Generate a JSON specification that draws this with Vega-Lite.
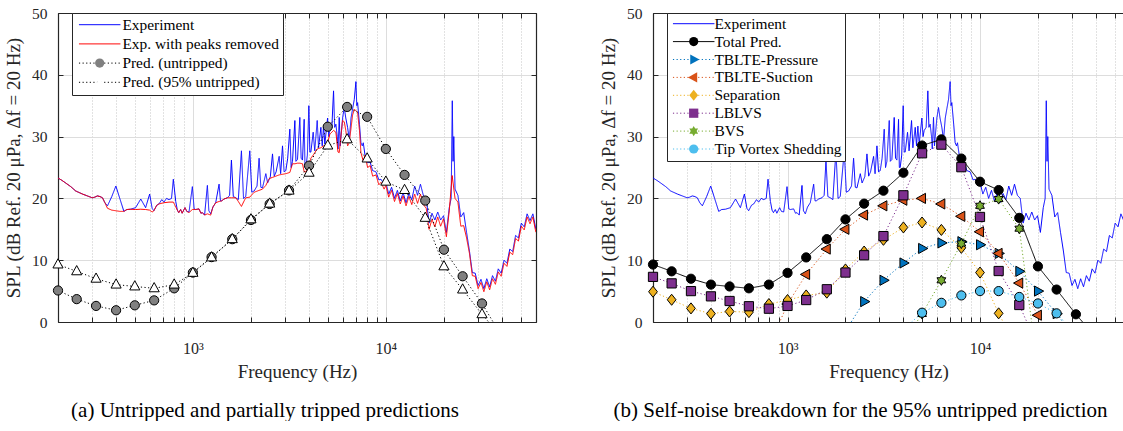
{
"$schema": "https://vega.github.io/schema/vega-lite/v6.json",
"background": "white",
"padding": {"left": 4, "top": 6, "right": 0, "bottom": 0},
"spacing": 62,
"resolve": {"scale": {"stroke": "independent", "strokeDash": "independent", "shape": "independent", "fill": "independent", "x": "independent", "y": "independent"}, "legend": {"stroke": "independent", "strokeDash": "independent", "shape": "independent", "fill": "independent"}},
"config": {
  "font": "Liberation Serif",
  "view": {"stroke": null},
  "axis": {"domainColor": "#262626", "tickColor": "#262626", "labelColor": "#262626", "titleColor": "#262626", "labelFont": "Liberation Serif", "titleFont": "Liberation Serif", "titleFontWeight": "normal", "domainWidth": 1.2, "tickWidth": 1},
  "legend": {"labelFont": "Liberation Serif", "labelLimit": 400}
},
"datasets": {
"blue": [
{"f":200,"v":23.3},{"f":210,"v":22.9},{"f":219,"v":22.5},{"f":233,"v":21.9},{"f":247,"v":21.2},{"f":268,"v":20.7},{"f":284,"v":20.4},{"f":301,"v":20.1},{"f":310,"v":20.2},{"f":320,"v":20.4},{"f":330,"v":20.3},{"f":340,"v":20.1},{"f":350,"v":19.3},{"f":361,"v":18.8},{"f":380,"v":20.3},{"f":399,"v":22.0},{"f":418,"v":20.0},{"f":439,"v":17.9},{"f":455,"v":18.2},{"f":476,"v":18.25},{"f":505,"v":18.5},{"f":537,"v":19.9},{"f":569,"v":18.5},{"f":597,"v":20.7},{"f":615,"v":18.4},{"f":628,"v":18.0},{"f":650,"v":18.9},{"f":667,"v":19.1},{"f":690,"v":19.8},{"f":708,"v":19.4},{"f":730,"v":20.0},{"f":752,"v":19.8},{"f":775,"v":20.0},{"f":792,"v":23.1},{"f":815,"v":19.5},{"f":831,"v":18.1},{"f":845,"v":17.7},{"f":864,"v":18.2},{"f":880,"v":17.6},{"f":910,"v":18.5},{"f":930,"v":17.9},{"f":955,"v":17.8},{"f":994,"v":21.9},{"f":1015,"v":18.3},{"f":1034,"v":18.2},{"f":1076,"v":18.3},{"f":1100,"v":17.6},{"f":1120,"v":17.7},{"f":1150,"v":17.3},{"f":1189,"v":22.1},{"f":1210,"v":18.0},{"f":1237,"v":17.5},{"f":1270,"v":18.6},{"f":1313,"v":19.3},{"f":1367,"v":22.3},{"f":1390,"v":19.6},{"f":1410,"v":19.6},{"f":1451,"v":19.9},{"f":1510,"v":20.1},{"f":1550,"v":20.5},{"f":1584,"v":26.2},{"f":1620,"v":20.3},{"f":1668,"v":20.1},{"f":1720,"v":19.8},{"f":1785,"v":27.7},{"f":1830,"v":20.0},{"f":1879,"v":20.3},{"f":1972,"v":27.7},{"f":2020,"v":21.0},{"f":2077,"v":21.2},{"f":2150,"v":22.0},{"f":2204,"v":26.5},{"f":2250,"v":21.8},{"f":2294,"v":21.7},{"f":2388,"v":24.0},{"f":2440,"v":22.5},{"f":2520,"v":23.5},{"f":2586,"v":27.2},{"f":2640,"v":23.6},{"f":2700,"v":24.3},{"f":2800,"v":26.8},{"f":2850,"v":24.0},{"f":2914,"v":28.5},{"f":2970,"v":24.3},{"f":3032,"v":24.5},{"f":3100,"v":26.5},{"f":3180,"v":31.2},{"f":3230,"v":25.0},{"f":3283,"v":26.0},{"f":3377,"v":32.6},{"f":3420,"v":26.0},{"f":3485,"v":26.3},{"f":3583,"v":33.1},{"f":3640,"v":26.5},{"f":3700,"v":26.2},{"f":3774,"v":32.8},{"f":3810,"v":25.0},{"f":3849,"v":25.0},{"f":3920,"v":27.0},{"f":3990,"v":35.0},{"f":4040,"v":27.5},{"f":4087,"v":27.5},{"f":4202,"v":30.7},{"f":4280,"v":27.7},{"f":4409,"v":32.6},{"f":4480,"v":28.2},{"f":4607,"v":31.5},{"f":4680,"v":28.5},{"f":4756,"v":31.7},{"f":4830,"v":28.8},{"f":4989,"v":33.0},{"f":5060,"v":30.0},{"f":5129,"v":31.0},{"f":5250,"v":31.5},{"f":5358,"v":37.4},{"f":5430,"v":31.5},{"f":5510,"v":32.0},{"f":5600,"v":30.0},{"f":5650,"v":28.0},{"f":5734,"v":33.1},{"f":5800,"v":28.5},{"f":5968,"v":33.0},{"f":6088,"v":34.7},{"f":6200,"v":33.0},{"f":6335,"v":31.5},{"f":6463,"v":29.5},{"f":6600,"v":33.0},{"f":6726,"v":34.5},{"f":6861,"v":36.0},{"f":6998,"v":38.9},{"f":7070,"v":35.0},{"f":7139,"v":35.5},{"f":7300,"v":32.0},{"f":7429,"v":29.0},{"f":7550,"v":28.5},{"f":7639,"v":29.0},{"f":7800,"v":27.0},{"f":8045,"v":25.8},{"f":8300,"v":25.8},{"f":8542,"v":24.5},{"f":8888,"v":24.3},{"f":9200,"v":23.0},{"f":9435,"v":23.1},{"f":9800,"v":22.3},
{"f":10000,"v":22.6},{"f":10350,"v":20.7},{"f":10712,"v":21.8},{"f":11087,"v":20.0},{"f":11475,"v":21.3},{"f":11877,"v":19.6},{"f":12293,"v":20.9},{"f":12723,"v":19.3},{"f":13168,"v":20.8},{"f":13629,"v":19.8},{"f":14106,"v":22.0},{"f":14600,"v":20.5},{"f":15111,"v":22.3},{"f":15640,"v":20.5},{"f":16187,"v":20.0},{"f":16753,"v":16.0},{"f":17340,"v":17.6},{"f":17947,"v":16.5},{"f":18575,"v":17.8},{"f":19225,"v":16.5},{"f":19898,"v":17.2},{"f":20594,"v":14.5},{"f":21315,"v":18.5},{"f":21800,"v":20.0},{"f":22100,"v":35.8},{"f":22300,"v":26.0},{"f":22500,"v":30.0},{"f":22833,"v":21.5},{"f":23632,"v":20.5},{"f":24460,"v":17.0},{"f":25316,"v":17.7},{"f":26202,"v":14.5},{"f":27119,"v":11.5},{"f":28068,"v":8.0},{"f":29050,"v":7.9},{"f":30067,"v":5.9},{"f":31119,"v":6.9},{"f":32209,"v":5.4},{"f":33336,"v":7.0},{"f":34503,"v":5.7},{"f":35710,"v":7.5},{"f":36960,"v":6.6},{"f":38254,"v":8.6},{"f":39593,"v":7.9},{"f":40978,"v":10.0},{"f":42413,"v":9.5},{"f":43897,"v":11.8},{"f":45433,"v":11.4},{"f":47024,"v":14.0},{"f":48669,"v":13.6},{"f":50373,"v":16.0},{"f":52136,"v":15.4},{"f":53961,"v":17.5},{"f":55849,"v":16.4},{"f":57804,"v":17.5},{"f":59827,"v":15.1},{"f":60140,"v":15.0}
],
"red": [
{"f":200,"v":23.3},{"f":210,"v":22.9},{"f":219,"v":22.5},{"f":233,"v":21.9},{"f":247,"v":21.2},{"f":268,"v":20.7},{"f":284,"v":20.4},{"f":301,"v":20.1},{"f":310,"v":20.2},{"f":320,"v":20.4},{"f":330,"v":20.3},{"f":340,"v":20.1},{"f":350,"v":19.3},{"f":361,"v":18.4},{"f":380,"v":18.1},{"f":399,"v":18.0},{"f":418,"v":17.9},{"f":439,"v":17.9},{"f":455,"v":18.2},{"f":476,"v":18.25},{"f":505,"v":18.2},{"f":537,"v":18.25},{"f":569,"v":18.2},{"f":597,"v":18.1},{"f":615,"v":17.8},{"f":628,"v":18.0},{"f":650,"v":18.9},{"f":667,"v":19.1},{"f":708,"v":19.3},{"f":752,"v":19.4},{"f":792,"v":19.4},{"f":810,"v":18.8},{"f":831,"v":18.1},{"f":845,"v":17.7},{"f":864,"v":18.2},{"f":880,"v":17.6},{"f":910,"v":18.5},{"f":930,"v":17.9},{"f":955,"v":17.7},{"f":994,"v":18.2},{"f":1034,"v":18.2},{"f":1076,"v":18.3},{"f":1100,"v":17.6},{"f":1120,"v":17.7},{"f":1150,"v":17.3},{"f":1189,"v":17.5},{"f":1237,"v":17.3},{"f":1270,"v":18.6},{"f":1313,"v":19.3},{"f":1367,"v":19.5},{"f":1410,"v":19.6},{"f":1451,"v":19.9},{"f":1510,"v":20.1},{"f":1584,"v":20.1},{"f":1668,"v":20.1},{"f":1720,"v":19.5},{"f":1785,"v":18.7},{"f":1830,"v":19.4},{"f":1879,"v":20.1},{"f":1972,"v":20.2},{"f":2077,"v":21.0},{"f":2204,"v":21.3},{"f":2294,"v":21.5},{"f":2388,"v":22.1},{"f":2485,"v":23.2},{"f":2586,"v":23.4},{"f":2691,"v":23.6},{"f":2800,"v":23.8},{"f":2914,"v":23.9},{"f":3032,"v":24.0},{"f":3180,"v":24.2},{"f":3283,"v":25.6},{"f":3377,"v":25.6},{"f":3485,"v":25.7},{"f":3583,"v":25.7},{"f":3700,"v":25.6},{"f":3774,"v":24.3},{"f":3849,"v":24.3},{"f":3990,"v":25.3},{"f":4087,"v":26.5},{"f":4202,"v":27.0},{"f":4409,"v":28.0},{"f":4607,"v":28.2},{"f":4756,"v":28.5},{"f":4890,"v":28.6},{"f":4989,"v":29.0},{"f":5129,"v":30.4},{"f":5358,"v":31.0},{"f":5510,"v":30.7},{"f":5650,"v":27.5},{"f":5734,"v":27.4},{"f":5968,"v":32.6},{"f":6088,"v":32.4},{"f":6200,"v":31.0},{"f":6335,"v":28.5},{"f":6463,"v":29.0},{"f":6726,"v":33.5},{"f":6861,"v":34.4},{"f":6998,"v":34.2},{"f":7139,"v":33.9},{"f":7300,"v":31.0},{"f":7429,"v":27.4},{"f":7639,"v":26.0},{"f":7800,"v":27.0},{"f":8045,"v":25.0},{"f":8300,"v":25.3},{"f":8542,"v":23.6},{"f":8888,"v":23.8},{"f":9200,"v":22.2},{"f":9435,"v":22.6},{"f":9800,"v":21.5},
{"f":10000,"v":22.1},{"f":10350,"v":20.2},{"f":10712,"v":21.3},{"f":11087,"v":19.5},{"f":11475,"v":20.8},{"f":11877,"v":19.1},{"f":12293,"v":20.4},{"f":12723,"v":18.8},{"f":13168,"v":20.3},{"f":13629,"v":19.0},{"f":14106,"v":20.7},{"f":14600,"v":19.2},{"f":15111,"v":20.7},{"f":15640,"v":19.0},{"f":16187,"v":18.4},{"f":16753,"v":15.0},{"f":17340,"v":16.6},{"f":17947,"v":15.4},{"f":18575,"v":17.0},{"f":19225,"v":15.5},{"f":19898,"v":16.7},{"f":20594,"v":13.8},{"f":21315,"v":18.0},{"f":22061,"v":23.7},{"f":22833,"v":20.0},{"f":23632,"v":19.4},{"f":24460,"v":15.5},{"f":25316,"v":15.6},{"f":26202,"v":13.6},{"f":27119,"v":11.1},{"f":28068,"v":7.5},{"f":29050,"v":7.4},{"f":30067,"v":5.4},{"f":31119,"v":6.4},{"f":32209,"v":4.9},{"f":33336,"v":6.5},{"f":34503,"v":5.2},{"f":35710,"v":7.0},{"f":36960,"v":6.1},{"f":38254,"v":8.1},{"f":39593,"v":7.4},{"f":40978,"v":9.5},{"f":42413,"v":9.0},{"f":43897,"v":11.3},{"f":45433,"v":10.9},{"f":47024,"v":13.5},{"f":48669,"v":13.1},{"f":50373,"v":15.5},{"f":52136,"v":14.9},{"f":53961,"v":17.0},{"f":55849,"v":15.9},{"f":57804,"v":17.0},{"f":59827,"v":14.6},{"f":60140,"v":14.5}
],
"pred": [
{"s":"U","f":200,"v":5.1},{"s":"U","f":250,"v":3.7},{"s":"U","f":315,"v":2.6},{"s":"U","f":400,"v":1.9},{"s":"U","f":500,"v":2.7},{"s":"U","f":630,"v":3.5},{"s":"U","f":800,"v":5.45},{"s":"U","f":1000,"v":8.0},{"s":"U","f":1250,"v":10.5},{"s":"U","f":1600,"v":13.4},{"s":"U","f":2000,"v":16.5},{"s":"U","f":2500,"v":19.1},{"s":"U","f":3150,"v":21.3},{"s":"U","f":4000,"v":25.3},{"s":"U","f":5000,"v":31.6},{"s":"U","f":6300,"v":34.8},{"s":"U","f":8000,"v":33.2},{"s":"U","f":10000,"v":28.0},{"s":"U","f":12500,"v":23.8},{"s":"U","f":16000,"v":19.65},{"s":"U","f":20000,"v":11.7},{"s":"U","f":25000,"v":7.4},{"s":"U","f":31500,"v":3.0},{"s":"U","f":40000,"v":-2.4},
{"s":"T","f":200,"v":9.3},{"s":"T","f":250,"v":8.2},{"s":"T","f":315,"v":7.0},{"s":"T","f":400,"v":6.05},{"s":"T","f":500,"v":5.75},{"s":"T","f":630,"v":5.45},{"s":"T","f":800,"v":6.05},{"s":"T","f":1000,"v":7.95},{"s":"T","f":1250,"v":10.45},{"s":"T","f":1600,"v":13.4},{"s":"T","f":2000,"v":16.6},{"s":"T","f":2500,"v":19.15},{"s":"T","f":3150,"v":21.25},{"s":"T","f":4000,"v":24.15},{"s":"T","f":5000,"v":28.55},{"s":"T","f":6300,"v":29.55},{"s":"T","f":8000,"v":26.45},{"s":"T","f":10000,"v":22.7},{"s":"T","f":12500,"v":21.35},{"s":"T","f":16000,"v":16.85},{"s":"T","f":20000,"v":9.0},{"s":"T","f":25000,"v":5.25},{"s":"T","f":31500,"v":1.25},{"s":"T","f":40000,"v":-2.5},
{"s":"P","f":2000,"v":-1.45},{"s":"P","f":2500,"v":3.3},{"s":"P","f":3150,"v":6.75},{"s":"P","f":4000,"v":9.55},{"s":"P","f":5000,"v":11.9},{"s":"P","f":6300,"v":12.8},{"s":"P","f":8000,"v":13.0},{"s":"P","f":10000,"v":12.5},{"s":"P","f":12500,"v":11.1},{"s":"P","f":16000,"v":8.2},{"s":"P","f":20000,"v":5.0},{"s":"P","f":25000,"v":1.35},{"s":"P","f":31500,"v":-2.8},
{"s":"S","f":800,"v":-4},{"s":"S","f":1000,"v":2.9},{"s":"S","f":1250,"v":7.7},{"s":"S","f":1600,"v":11.8},{"s":"S","f":2000,"v":15.0},{"s":"S","f":2500,"v":17.3},{"s":"S","f":3150,"v":18.8},{"s":"S","f":4000,"v":19.7},{"s":"S","f":5000,"v":20.0},{"s":"S","f":6300,"v":19.1},{"s":"S","f":8000,"v":17.1},{"s":"S","f":10000,"v":14.6},{"s":"S","f":12500,"v":11.1},{"s":"S","f":16000,"v":6.3},{"s":"S","f":20000,"v":1.1},{"s":"S","f":25000,"v":-4},
{"s":"Sep","f":200,"v":4.9},{"s":"Sep","f":250,"v":3.6},{"s":"Sep","f":315,"v":2.2},{"s":"Sep","f":400,"v":1.35},{"s":"Sep","f":500,"v":1.7},{"s":"Sep","f":630,"v":1.6},{"s":"Sep","f":800,"v":2.9},{"s":"Sep","f":1000,"v":3.55},{"s":"Sep","f":1250,"v":4.3},{"s":"Sep","f":1600,"v":4.75},{"s":"Sep","f":2000,"v":8.5},{"s":"Sep","f":2500,"v":11.4},{"s":"Sep","f":3150,"v":13.3},{"s":"Sep","f":4000,"v":15.3},{"s":"Sep","f":5000,"v":16.1},{"s":"Sep","f":6300,"v":14.9},{"s":"Sep","f":8000,"v":12.0},{"s":"Sep","f":10000,"v":8.0},{"s":"Sep","f":12500,"v":1.4},{"s":"Sep","f":16000,"v":-5},
{"s":"L","f":200,"v":7.3},{"s":"L","f":250,"v":6.25},{"s":"L","f":315,"v":5.0},{"s":"L","f":400,"v":4.15},{"s":"L","f":500,"v":3.4},{"s":"L","f":630,"v":2.55},{"s":"L","f":800,"v":2.15},{"s":"L","f":1000,"v":2.6},{"s":"L","f":1250,"v":3.55},{"s":"L","f":1600,"v":5.3},{"s":"L","f":2000,"v":8.0},{"s":"L","f":2500,"v":10.8},{"s":"L","f":3150,"v":13.9},{"s":"L","f":4000,"v":20.5},{"s":"L","f":5000,"v":27.3},{"s":"L","f":6300,"v":28.7},{"s":"L","f":8000,"v":25.05},{"s":"L","f":10000,"v":17.0},{"s":"L","f":12500,"v":8.25},{"s":"L","f":16000,"v":2.75},{"s":"L","f":20000,"v":-4},
{"s":"B","f":4000,"v":-3.2},{"s":"B","f":5000,"v":1.3},{"s":"B","f":6300,"v":6.75},{"s":"B","f":8000,"v":12.7},{"s":"B","f":10000,"v":18.8},{"s":"B","f":12500,"v":19.9},{"s":"B","f":16000,"v":15.1},{"s":"B","f":20000,"v":-7.7},
{"s":"V","f":4000,"v":-1.2},{"s":"V","f":5000,"v":1.5},{"s":"V","f":6300,"v":3.1},{"s":"V","f":8000,"v":4.3},{"s":"V","f":10000,"v":5.0},{"s":"V","f":12500,"v":5.0},{"s":"V","f":16000,"v":4.05},{"s":"V","f":20000,"v":3.0},{"s":"V","f":25000,"v":1.4},{"s":"V","f":31500,"v":-2.0}
]
},
"hconcat": [
{
"width": 478, "height": 309,
"title": {"text": "(a)  Untripped and partially tripped predictions", "orient": "bottom", "anchor": "middle", "frame": "group", "offset": 19, "dx": -32, "fontSize": 21, "fontWeight": "normal", "font": "Liberation Serif", "color": "#000000"},
"resolve": {"axis": {"x": "independent", "y": "independent"}},
"encoding": {
  "x": {"field": "f", "type": "quantitative", "scale": {"type": "log", "domain": [200, 60000], "nice": false}, "axis": null},
  "y": {"field": "v", "type": "quantitative", "scale": {"domain": [0, 50], "nice": false, "zero": false}, "axis": null}
},
"layer": [
{"data": {"name": "blue"}, "mark": {"type": "line", "strokeWidth": 1, "clip": true},
 "encoding": {
  "x": {"field": "f", "type": "quantitative", "scale": {"type": "log", "domain": [200, 60000], "nice": false},
    "axis": {"orient": "bottom", "values": [200,300,400,500,600,700,800,900,1000,2000,3000,4000,5000,6000,7000,8000,9000,10000,20000,30000,40000,50000,60000], "labelExpr": "datum.value == 1000 ? '10³' : datum.value == 10000 ? '10⁴' : ''", "labelFontSize": 16, "labelPadding": 23, "tickSize": -5, "title": "Frequency (Hz)", "titleFontSize": 19, "titlePadding": 6, "grid": true, "gridColor": {"condition": {"test": "datum.value == 1000 || datum.value == 10000", "value": "#dddddd"}, "value": "#c4c4c4"}, "gridDash": {"condition": {"test": "datum.value == 1000 || datum.value == 10000", "value": []}, "value": [1, 2]}, "labelOverlap": false, "labelFlush": false}},
  "y": {"field": "v", "type": "quantitative", "scale": {"domain": [0, 50], "nice": false, "zero": false},
    "axis": {"orient": "left", "values": [0,10,20,30,40,50], "labelFontSize": 15.5, "labelPadding": 16, "tickSize": -5, "title": "SPL (dB Ref. 20  μPa, Δf  = 20 Hz)", "titleFontSize": 19, "titlePadding": 8, "grid": true, "gridColor": "#dddddd"}},
  "stroke": {"datum": "Experiment", "type": "nominal", "scale": {"domain": ["Experiment", "Exp. with peaks removed", "Pred. (untripped)", "Pred. (95% untripped)"], "range": ["#0000ff", "#ff0000", "#000000", "#000000"]},
    "legend": {"orient": "none", "legendX": 14, "legendY": 0, "title": null, "symbolType": "M-4.5,0L4.5,0", "symbolSize": 85, "symbolStrokeWidth": 1, "symbolOffset": 16, "labelOffset": 15, "labelFontSize": 15.4, "labelColor": "#000000", "padding": 4, "rowPadding": 2.2, "strokeColor": "#262626", "fillColor": "#ffffff", "zindex": 1}},
  "strokeDash": {"datum": "Experiment", "type": "nominal", "scale": {"domain": ["Experiment", "Exp. with peaks removed", "Pred. (untripped)", "Pred. (95% untripped)"], "range": [[1, 0], [1, 0], [1.2, 2.4], [1.2, 2.4]]},
    "legend": {"orient": "none", "legendX": 14, "legendY": 0, "title": null, "symbolType": "M-4.5,0L4.5,0", "symbolSize": 85, "symbolStrokeWidth": 1, "symbolOffset": 16, "labelOffset": 15, "labelFontSize": 15.4, "labelColor": "#000000", "padding": 4, "rowPadding": 2.2, "strokeColor": "#262626", "fillColor": "#ffffff", "zindex": 1}}
 }},
{"data": {"name": "red"}, "mark": {"type": "line", "strokeWidth": 1, "clip": true},
 "encoding": {
  "x": {"field": "f", "type": "quantitative", "scale": {"type": "log", "domain": [200, 60000], "nice": false},
    "axis": {"orient": "top", "values": [200,300,400,500,600,700,800,900,1000,2000,3000,4000,5000,6000,7000,8000,9000,10000,20000,30000,40000,50000,60000], "labels": false, "tickSize": -5, "title": null, "grid": false}},
  "y": {"field": "v", "type": "quantitative", "scale": {"domain": [0, 50], "nice": false, "zero": false},
    "axis": {"orient": "right", "values": [0,10,20,30,40,50], "labels": false, "tickSize": -5, "title": null, "grid": false}},
  "stroke": {"datum": "Exp. with peaks removed", "type": "nominal", "scale": {"domain": ["Experiment", "Exp. with peaks removed", "Pred. (untripped)", "Pred. (95% untripped)"], "range": ["#0000ff", "#ff0000", "#000000", "#000000"]}},
  "strokeDash": {"datum": "Exp. with peaks removed", "type": "nominal", "scale": {"domain": ["Experiment", "Exp. with peaks removed", "Pred. (untripped)", "Pred. (95% untripped)"], "range": [[1, 0], [1, 0], [1.2, 2.4], [1.2, 2.4]]}}
 }},
{"data": {"name": "pred"}, "transform": [{"filter": "datum.s == 'U'"}], "mark": {"type": "line", "strokeWidth": 1, "clip": true},
 "encoding": {
  "stroke": {"datum": "Pred. (untripped)", "type": "nominal", "scale": {"domain": ["Experiment", "Exp. with peaks removed", "Pred. (untripped)", "Pred. (95% untripped)"], "range": ["#0000ff", "#ff0000", "#000000", "#000000"]}},
  "strokeDash": {"datum": "Pred. (untripped)", "type": "nominal", "scale": {"domain": ["Experiment", "Exp. with peaks removed", "Pred. (untripped)", "Pred. (95% untripped)"], "range": [[1, 0], [1, 0], [1.2, 2.4], [1.2, 2.4]]}}
 }},
{"data": {"name": "pred"}, "transform": [{"filter": "datum.s == 'T'"}], "mark": {"type": "line", "strokeWidth": 1, "clip": true},
 "encoding": {
  "stroke": {"datum": "Pred. (95% untripped)", "type": "nominal", "scale": {"domain": ["Experiment", "Exp. with peaks removed", "Pred. (untripped)", "Pred. (95% untripped)"], "range": ["#0000ff", "#ff0000", "#000000", "#000000"]}},
  "strokeDash": {"datum": "Pred. (95% untripped)", "type": "nominal", "scale": {"domain": ["Experiment", "Exp. with peaks removed", "Pred. (untripped)", "Pred. (95% untripped)"], "range": [[1, 0], [1, 0], [1.2, 2.4], [1.2, 2.4]]}}
 }},
{"data": {"name": "pred"}, "transform": [{"filter": "datum.s == 'U' && datum.v >= 0"}], "mark": {"type": "point", "filled": true, "size": 85, "stroke": "#000000", "strokeWidth": 1, "opacity": 1},
 "encoding": {
  "shape": {"datum": "m3", "type": "nominal", "scale": {"domain": ["m1", "m2", "m3", "m4"], "range": ["M0,0", "M0,0", "circle", "M0,-1.25L1.1,0.75L-1.1,0.75Z"]},
    "legend": {"orient": "none", "legendX": 14, "legendY": 0, "title": null, "symbolSize": 85, "symbolStrokeWidth": 1, "symbolStrokeColor": "#000000", "symbolOffset": 16, "labelOffset": 15, "labelFontSize": 15.4, "labelExpr": "' '", "padding": 4, "rowPadding": 2.2, "zindex": 2}},
  "fill": {"datum": "m3", "type": "nominal", "scale": {"domain": ["m1", "m2", "m3", "m4"], "range": ["transparent", "transparent", "#808080", "#ffffff"]},
    "legend": {"orient": "none", "legendX": 14, "legendY": 0, "title": null, "symbolSize": 85, "symbolStrokeWidth": 1, "symbolStrokeColor": "#000000", "symbolOffset": 16, "labelOffset": 15, "labelFontSize": 15.4, "labelExpr": "' '", "padding": 4, "rowPadding": 2.2, "zindex": 2}}
 }},
{"data": {"name": "pred"}, "transform": [{"filter": "datum.s == 'T' && datum.v >= 0"}], "mark": {"type": "point", "filled": true, "size": 85, "stroke": "#000000", "strokeWidth": 1, "opacity": 1},
 "encoding": {
  "shape": {"datum": "m4", "type": "nominal", "scale": {"domain": ["m1", "m2", "m3", "m4"], "range": ["M0,0", "M0,0", "circle", "M0,-1.25L1.1,0.75L-1.1,0.75Z"]}},
  "fill": {"datum": "m4", "type": "nominal", "scale": {"domain": ["m1", "m2", "m3", "m4"], "range": ["transparent", "transparent", "#808080", "#ffffff"]}}
 }}
]
},
{
"width": 471, "height": 309,
"title": {"text": "(b)  Self-noise breakdown for the 95% untripped prediction", "orient": "bottom", "anchor": "middle", "frame": "group", "offset": 19, "dx": -28, "fontSize": 21, "fontWeight": "normal", "font": "Liberation Serif", "color": "#000000"},
"resolve": {"axis": {"x": "independent", "y": "independent"}},
"encoding": {
  "x": {"field": "f", "type": "quantitative", "scale": {"type": "log", "domain": [200, 56000], "nice": false}, "axis": null},
  "y": {"field": "v", "type": "quantitative", "scale": {"domain": [0, 50], "nice": false, "zero": false}, "axis": null}
},
"layer": [
{"data": {"name": "blue"}, "mark": {"type": "line", "strokeWidth": 1, "clip": true},
 "encoding": {
  "x": {"field": "f", "type": "quantitative", "scale": {"type": "log", "domain": [200, 56000], "nice": false},
    "axis": {"orient": "bottom", "values": [200,300,400,500,600,700,800,900,1000,2000,3000,4000,5000,6000,7000,8000,9000,10000,20000,30000,40000,50000], "labelExpr": "datum.value == 1000 ? '10³' : datum.value == 10000 ? '10⁴' : ''", "labelFontSize": 16, "labelPadding": 23, "tickSize": -5, "title": "Frequency (Hz)", "titleFontSize": 19, "titlePadding": 6, "grid": true, "gridColor": {"condition": {"test": "datum.value == 1000 || datum.value == 10000", "value": "#dddddd"}, "value": "#c4c4c4"}, "gridDash": {"condition": {"test": "datum.value == 1000 || datum.value == 10000", "value": []}, "value": [1, 2]}, "labelOverlap": false, "labelFlush": false}},
  "y": {"field": "v", "type": "quantitative", "scale": {"domain": [0, 50], "nice": false, "zero": false},
    "axis": {"orient": "left", "values": [0,10,20,30,40,50], "labelFontSize": 15.5, "labelPadding": 16, "tickSize": -5, "title": "SPL (dB Ref. 20  μPa, Δf  = 20 Hz)", "titleFontSize": 19, "titlePadding": 8, "grid": true, "gridColor": "#dddddd"}},
  "stroke": {"datum": "Experiment", "type": "nominal", "scale": {"domain": ["Experiment", "Total Pred.", "TBLTE-Pressure", "TBLTE-Suction", "Separation", "LBLVS", "BVS", "Tip Vortex Shedding"], "range": ["#0000ff", "#000000", "#0072bd", "#d95319", "#edb120", "#7e2f8e", "#77ac30", "#4dbeee"]},
    "legend": {"orient": "none", "legendX": 14, "legendY": 0, "title": null, "symbolType": "M-4.5,0L4.5,0", "symbolSize": 85, "symbolStrokeWidth": 1, "symbolOffset": 16, "labelOffset": 13, "labelFontSize": 15.4, "labelColor": "#000000", "padding": 3, "rowPadding": 0.9, "strokeColor": "#262626", "fillColor": "#ffffff", "zindex": 1}},
  "strokeDash": {"datum": "Experiment", "type": "nominal", "scale": {"domain": ["Experiment", "Total Pred.", "TBLTE-Pressure", "TBLTE-Suction", "Separation", "LBLVS", "BVS", "Tip Vortex Shedding"], "range": [[1, 0], [1, 0], [1.2, 2.4], [1.2, 2.4], [1.2, 2.4], [1.2, 2.4], [1.2, 2.4], [1.2, 2.4]]},
    "legend": {"orient": "none", "legendX": 14, "legendY": 0, "title": null, "symbolType": "M-4.5,0L4.5,0", "symbolSize": 85, "symbolStrokeWidth": 1, "symbolOffset": 16, "labelOffset": 13, "labelFontSize": 15.4, "labelColor": "#000000", "padding": 3, "rowPadding": 0.9, "strokeColor": "#262626", "fillColor": "#ffffff", "zindex": 1}}
 }},
{"data": {"name": "pred"}, "transform": [{"filter": "datum.s == 'T'"}], "mark": {"type": "line", "strokeWidth": 1, "clip": true},
 "encoding": {
  "x": {"field": "f", "type": "quantitative", "scale": {"type": "log", "domain": [200, 56000], "nice": false},
    "axis": {"orient": "top", "values": [200,300,400,500,600,700,800,900,1000,2000,3000,4000,5000,6000,7000,8000,9000,10000,20000,30000,40000,50000], "labels": false, "tickSize": -5, "title": null, "grid": false}},
  "stroke": {"datum": "Total Pred.", "type": "nominal", "scale": {"domain": ["Experiment", "Total Pred.", "TBLTE-Pressure", "TBLTE-Suction", "Separation", "LBLVS", "BVS", "Tip Vortex Shedding"], "range": ["#0000ff", "#000000", "#0072bd", "#d95319", "#edb120", "#7e2f8e", "#77ac30", "#4dbeee"]}},
  "strokeDash": {"datum": "Total Pred.", "type": "nominal", "scale": {"domain": ["Experiment", "Total Pred.", "TBLTE-Pressure", "TBLTE-Suction", "Separation", "LBLVS", "BVS", "Tip Vortex Shedding"], "range": [[1, 0], [1, 0], [1.2, 2.4], [1.2, 2.4], [1.2, 2.4], [1.2, 2.4], [1.2, 2.4], [1.2, 2.4]]}}
 }},
{"data": {"name": "pred"}, "transform": [{"filter": "datum.s == 'T' && datum.v >= 0"}], "mark": {"type": "point", "filled": true, "size": 85, "stroke": "#000000", "strokeWidth": 1, "opacity": 1},
 "encoding": {
  "shape": {"datum": "k2", "type": "nominal", "scale": {"domain": ["k1", "k2", "k3", "k4", "k5", "k6", "k7", "k8"], "range": ["M0,0", "circle", "M1.25,0L-0.75,1.1L-0.75,-1.1Z", "M-1.25,0L0.75,-1.1L0.75,1.1Z", "M0,-1.2L0.95,0L0,1.2L-0.95,0Z", "square", "M0,-1.1L0.318,-0.55L0.953,-0.55L0.635,0L0.953,0.55L0.318,0.55L0,1.1L-0.318,0.55L-0.953,0.55L-0.635,0L-0.953,-0.55L-0.318,-0.55Z", "circle"]},
    "legend": {"orient": "none", "legendX": 14, "legendY": 0, "title": null, "symbolSize": 85, "symbolStrokeWidth": 1, "symbolStrokeColor": "#000000", "symbolOffset": 16, "labelOffset": 13, "labelFontSize": 15.4, "labelExpr": "' '", "padding": 3, "rowPadding": 0.9, "zindex": 2}},
  "fill": {"datum": "k2", "type": "nominal", "scale": {"domain": ["k1", "k2", "k3", "k4", "k5", "k6", "k7", "k8"], "range": ["transparent", "#000000", "#0072bd", "#d95319", "#edb120", "#7e2f8e", "#77ac30", "#4dbeee"]},
    "legend": {"orient": "none", "legendX": 14, "legendY": 0, "title": null, "symbolSize": 85, "symbolStrokeWidth": 1, "symbolStrokeColor": "#000000", "symbolOffset": 16, "labelOffset": 13, "labelFontSize": 15.4, "labelExpr": "' '", "padding": 3, "rowPadding": 0.9, "zindex": 2}}
 }},
{"data": {"name": "pred"}, "transform": [{"filter": "datum.s == 'P'"}], "mark": {"type": "line", "strokeWidth": 1, "clip": true},
 "encoding": {
  "stroke": {"datum": "TBLTE-Pressure", "type": "nominal", "scale": {"domain": ["Experiment", "Total Pred.", "TBLTE-Pressure", "TBLTE-Suction", "Separation", "LBLVS", "BVS", "Tip Vortex Shedding"], "range": ["#0000ff", "#000000", "#0072bd", "#d95319", "#edb120", "#7e2f8e", "#77ac30", "#4dbeee"]}},
  "strokeDash": {"datum": "TBLTE-Pressure", "type": "nominal", "scale": {"domain": ["Experiment", "Total Pred.", "TBLTE-Pressure", "TBLTE-Suction", "Separation", "LBLVS", "BVS", "Tip Vortex Shedding"], "range": [[1, 0], [1, 0], [1.2, 2.4], [1.2, 2.4], [1.2, 2.4], [1.2, 2.4], [1.2, 2.4], [1.2, 2.4]]}}
 }},
{"data": {"name": "pred"}, "transform": [{"filter": "datum.s == 'P' && datum.v >= 0"}], "mark": {"type": "point", "filled": true, "size": 85, "stroke": "#000000", "strokeWidth": 1, "opacity": 1},
 "encoding": {
  "shape": {"datum": "k3", "type": "nominal", "scale": {"domain": ["k1", "k2", "k3", "k4", "k5", "k6", "k7", "k8"], "range": ["M0,0", "circle", "M1.25,0L-0.75,1.1L-0.75,-1.1Z", "M-1.25,0L0.75,-1.1L0.75,1.1Z", "M0,-1.2L0.95,0L0,1.2L-0.95,0Z", "square", "M0,-1.1L0.318,-0.55L0.953,-0.55L0.635,0L0.953,0.55L0.318,0.55L0,1.1L-0.318,0.55L-0.953,0.55L-0.635,0L-0.953,-0.55L-0.318,-0.55Z", "circle"]}},
  "fill": {"datum": "k3", "type": "nominal", "scale": {"domain": ["k1", "k2", "k3", "k4", "k5", "k6", "k7", "k8"], "range": ["transparent", "#000000", "#0072bd", "#d95319", "#edb120", "#7e2f8e", "#77ac30", "#4dbeee"]}}
 }},
{"data": {"name": "pred"}, "transform": [{"filter": "datum.s == 'S'"}], "mark": {"type": "line", "strokeWidth": 1, "clip": true},
 "encoding": {
  "stroke": {"datum": "TBLTE-Suction", "type": "nominal", "scale": {"domain": ["Experiment", "Total Pred.", "TBLTE-Pressure", "TBLTE-Suction", "Separation", "LBLVS", "BVS", "Tip Vortex Shedding"], "range": ["#0000ff", "#000000", "#0072bd", "#d95319", "#edb120", "#7e2f8e", "#77ac30", "#4dbeee"]}},
  "strokeDash": {"datum": "TBLTE-Suction", "type": "nominal", "scale": {"domain": ["Experiment", "Total Pred.", "TBLTE-Pressure", "TBLTE-Suction", "Separation", "LBLVS", "BVS", "Tip Vortex Shedding"], "range": [[1, 0], [1, 0], [1.2, 2.4], [1.2, 2.4], [1.2, 2.4], [1.2, 2.4], [1.2, 2.4], [1.2, 2.4]]}}
 }},
{"data": {"name": "pred"}, "transform": [{"filter": "datum.s == 'S' && datum.v >= 0"}], "mark": {"type": "point", "filled": true, "size": 85, "stroke": "#000000", "strokeWidth": 1, "opacity": 1},
 "encoding": {
  "shape": {"datum": "k4", "type": "nominal", "scale": {"domain": ["k1", "k2", "k3", "k4", "k5", "k6", "k7", "k8"], "range": ["M0,0", "circle", "M1.25,0L-0.75,1.1L-0.75,-1.1Z", "M-1.25,0L0.75,-1.1L0.75,1.1Z", "M0,-1.2L0.95,0L0,1.2L-0.95,0Z", "square", "M0,-1.1L0.318,-0.55L0.953,-0.55L0.635,0L0.953,0.55L0.318,0.55L0,1.1L-0.318,0.55L-0.953,0.55L-0.635,0L-0.953,-0.55L-0.318,-0.55Z", "circle"]}},
  "fill": {"datum": "k4", "type": "nominal", "scale": {"domain": ["k1", "k2", "k3", "k4", "k5", "k6", "k7", "k8"], "range": ["transparent", "#000000", "#0072bd", "#d95319", "#edb120", "#7e2f8e", "#77ac30", "#4dbeee"]}}
 }},
{"data": {"name": "pred"}, "transform": [{"filter": "datum.s == 'Sep'"}], "mark": {"type": "line", "strokeWidth": 1, "clip": true},
 "encoding": {
  "stroke": {"datum": "Separation", "type": "nominal", "scale": {"domain": ["Experiment", "Total Pred.", "TBLTE-Pressure", "TBLTE-Suction", "Separation", "LBLVS", "BVS", "Tip Vortex Shedding"], "range": ["#0000ff", "#000000", "#0072bd", "#d95319", "#edb120", "#7e2f8e", "#77ac30", "#4dbeee"]}},
  "strokeDash": {"datum": "Separation", "type": "nominal", "scale": {"domain": ["Experiment", "Total Pred.", "TBLTE-Pressure", "TBLTE-Suction", "Separation", "LBLVS", "BVS", "Tip Vortex Shedding"], "range": [[1, 0], [1, 0], [1.2, 2.4], [1.2, 2.4], [1.2, 2.4], [1.2, 2.4], [1.2, 2.4], [1.2, 2.4]]}}
 }},
{"data": {"name": "pred"}, "transform": [{"filter": "datum.s == 'Sep' && datum.v >= 0"}], "mark": {"type": "point", "filled": true, "size": 85, "stroke": "#000000", "strokeWidth": 1, "opacity": 1},
 "encoding": {
  "shape": {"datum": "k5", "type": "nominal", "scale": {"domain": ["k1", "k2", "k3", "k4", "k5", "k6", "k7", "k8"], "range": ["M0,0", "circle", "M1.25,0L-0.75,1.1L-0.75,-1.1Z", "M-1.25,0L0.75,-1.1L0.75,1.1Z", "M0,-1.2L0.95,0L0,1.2L-0.95,0Z", "square", "M0,-1.1L0.318,-0.55L0.953,-0.55L0.635,0L0.953,0.55L0.318,0.55L0,1.1L-0.318,0.55L-0.953,0.55L-0.635,0L-0.953,-0.55L-0.318,-0.55Z", "circle"]}},
  "fill": {"datum": "k5", "type": "nominal", "scale": {"domain": ["k1", "k2", "k3", "k4", "k5", "k6", "k7", "k8"], "range": ["transparent", "#000000", "#0072bd", "#d95319", "#edb120", "#7e2f8e", "#77ac30", "#4dbeee"]}}
 }},
{"data": {"name": "pred"}, "transform": [{"filter": "datum.s == 'L'"}], "mark": {"type": "line", "strokeWidth": 1, "clip": true},
 "encoding": {
  "stroke": {"datum": "LBLVS", "type": "nominal", "scale": {"domain": ["Experiment", "Total Pred.", "TBLTE-Pressure", "TBLTE-Suction", "Separation", "LBLVS", "BVS", "Tip Vortex Shedding"], "range": ["#0000ff", "#000000", "#0072bd", "#d95319", "#edb120", "#7e2f8e", "#77ac30", "#4dbeee"]}},
  "strokeDash": {"datum": "LBLVS", "type": "nominal", "scale": {"domain": ["Experiment", "Total Pred.", "TBLTE-Pressure", "TBLTE-Suction", "Separation", "LBLVS", "BVS", "Tip Vortex Shedding"], "range": [[1, 0], [1, 0], [1.2, 2.4], [1.2, 2.4], [1.2, 2.4], [1.2, 2.4], [1.2, 2.4], [1.2, 2.4]]}}
 }},
{"data": {"name": "pred"}, "transform": [{"filter": "datum.s == 'L' && datum.v >= 0"}], "mark": {"type": "point", "filled": true, "size": 85, "stroke": "#000000", "strokeWidth": 1, "opacity": 1},
 "encoding": {
  "shape": {"datum": "k6", "type": "nominal", "scale": {"domain": ["k1", "k2", "k3", "k4", "k5", "k6", "k7", "k8"], "range": ["M0,0", "circle", "M1.25,0L-0.75,1.1L-0.75,-1.1Z", "M-1.25,0L0.75,-1.1L0.75,1.1Z", "M0,-1.2L0.95,0L0,1.2L-0.95,0Z", "square", "M0,-1.1L0.318,-0.55L0.953,-0.55L0.635,0L0.953,0.55L0.318,0.55L0,1.1L-0.318,0.55L-0.953,0.55L-0.635,0L-0.953,-0.55L-0.318,-0.55Z", "circle"]}},
  "fill": {"datum": "k6", "type": "nominal", "scale": {"domain": ["k1", "k2", "k3", "k4", "k5", "k6", "k7", "k8"], "range": ["transparent", "#000000", "#0072bd", "#d95319", "#edb120", "#7e2f8e", "#77ac30", "#4dbeee"]}}
 }},
{"data": {"name": "pred"}, "transform": [{"filter": "datum.s == 'B'"}], "mark": {"type": "line", "strokeWidth": 1, "clip": true},
 "encoding": {
  "stroke": {"datum": "BVS", "type": "nominal", "scale": {"domain": ["Experiment", "Total Pred.", "TBLTE-Pressure", "TBLTE-Suction", "Separation", "LBLVS", "BVS", "Tip Vortex Shedding"], "range": ["#0000ff", "#000000", "#0072bd", "#d95319", "#edb120", "#7e2f8e", "#77ac30", "#4dbeee"]}},
  "strokeDash": {"datum": "BVS", "type": "nominal", "scale": {"domain": ["Experiment", "Total Pred.", "TBLTE-Pressure", "TBLTE-Suction", "Separation", "LBLVS", "BVS", "Tip Vortex Shedding"], "range": [[1, 0], [1, 0], [1.2, 2.4], [1.2, 2.4], [1.2, 2.4], [1.2, 2.4], [1.2, 2.4], [1.2, 2.4]]}}
 }},
{"data": {"name": "pred"}, "transform": [{"filter": "datum.s == 'B' && datum.v >= 0"}], "mark": {"type": "point", "filled": true, "size": 85, "stroke": "#000000", "strokeWidth": 1, "opacity": 1},
 "encoding": {
  "shape": {"datum": "k7", "type": "nominal", "scale": {"domain": ["k1", "k2", "k3", "k4", "k5", "k6", "k7", "k8"], "range": ["M0,0", "circle", "M1.25,0L-0.75,1.1L-0.75,-1.1Z", "M-1.25,0L0.75,-1.1L0.75,1.1Z", "M0,-1.2L0.95,0L0,1.2L-0.95,0Z", "square", "M0,-1.1L0.318,-0.55L0.953,-0.55L0.635,0L0.953,0.55L0.318,0.55L0,1.1L-0.318,0.55L-0.953,0.55L-0.635,0L-0.953,-0.55L-0.318,-0.55Z", "circle"]}},
  "fill": {"datum": "k7", "type": "nominal", "scale": {"domain": ["k1", "k2", "k3", "k4", "k5", "k6", "k7", "k8"], "range": ["transparent", "#000000", "#0072bd", "#d95319", "#edb120", "#7e2f8e", "#77ac30", "#4dbeee"]}}
 }},
{"data": {"name": "pred"}, "transform": [{"filter": "datum.s == 'V'"}], "mark": {"type": "line", "strokeWidth": 1, "clip": true},
 "encoding": {
  "stroke": {"datum": "Tip Vortex Shedding", "type": "nominal", "scale": {"domain": ["Experiment", "Total Pred.", "TBLTE-Pressure", "TBLTE-Suction", "Separation", "LBLVS", "BVS", "Tip Vortex Shedding"], "range": ["#0000ff", "#000000", "#0072bd", "#d95319", "#edb120", "#7e2f8e", "#77ac30", "#4dbeee"]}},
  "strokeDash": {"datum": "Tip Vortex Shedding", "type": "nominal", "scale": {"domain": ["Experiment", "Total Pred.", "TBLTE-Pressure", "TBLTE-Suction", "Separation", "LBLVS", "BVS", "Tip Vortex Shedding"], "range": [[1, 0], [1, 0], [1.2, 2.4], [1.2, 2.4], [1.2, 2.4], [1.2, 2.4], [1.2, 2.4], [1.2, 2.4]]}}
 }},
{"data": {"name": "pred"}, "transform": [{"filter": "datum.s == 'V' && datum.v >= 0"}], "mark": {"type": "point", "filled": true, "size": 85, "stroke": "#000000", "strokeWidth": 1, "opacity": 1},
 "encoding": {
  "shape": {"datum": "k8", "type": "nominal", "scale": {"domain": ["k1", "k2", "k3", "k4", "k5", "k6", "k7", "k8"], "range": ["M0,0", "circle", "M1.25,0L-0.75,1.1L-0.75,-1.1Z", "M-1.25,0L0.75,-1.1L0.75,1.1Z", "M0,-1.2L0.95,0L0,1.2L-0.95,0Z", "square", "M0,-1.1L0.318,-0.55L0.953,-0.55L0.635,0L0.953,0.55L0.318,0.55L0,1.1L-0.318,0.55L-0.953,0.55L-0.635,0L-0.953,-0.55L-0.318,-0.55Z", "circle"]}},
  "fill": {"datum": "k8", "type": "nominal", "scale": {"domain": ["k1", "k2", "k3", "k4", "k5", "k6", "k7", "k8"], "range": ["transparent", "#000000", "#0072bd", "#d95319", "#edb120", "#7e2f8e", "#77ac30", "#4dbeee"]}}
 }}
]
}
]
}
